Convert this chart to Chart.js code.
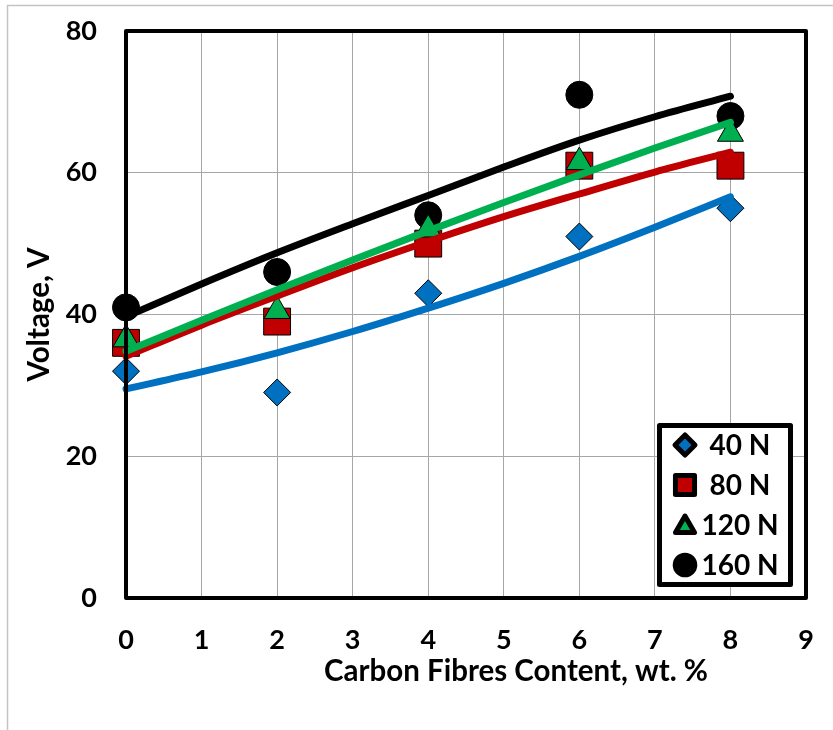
<!DOCTYPE html>
<html>
<head>
<meta charset="utf-8">
<script src="https://cdn.jsdelivr.net/npm/chart.js@4.4.1/dist/chart.umd.min.js"></script>
<style>
  html, body { margin: 0; padding: 0; background: #fff; }
  #wrap { position: relative; width: 833px; height: 730px; }
</style>
</head>
<body>
<div id="wrap"><canvas id="c" width="833" height="730"></canvas></div>
<script>
// ---- data ----
const contentX = [0, 2, 4, 6, 8];
const volt40N  = [32, 29, 43, 51, 55];
const volt80N  = [36, 39, 50, 61, 61];
const volt120N = [36.5, 40.5, 52, 61.5, 65.5];
const volt160N = [41, 46, 54, 71, 68];

// trend curves at each whole wt.%
const trendX      = [0, 1, 2, 3, 4, 5, 6, 7, 8];
const trend40N    = [29.5, 31.9, 34.6, 37.6, 40.9, 44.4, 48.2, 52.3, 56.6];
const trend80N    = [34.1, 38.5, 42.6, 46.6, 50.3, 53.8, 57.0, 60.1, 62.9];
const trend120N   = [34.8, 39.2, 43.5, 47.7, 51.8, 55.8, 59.7, 63.5, 67.1];
const trend160N   = [39.7, 44.3, 48.7, 52.8, 56.8, 60.8, 64.6, 67.9, 70.8];

const seriesLabels = ['40 N', '80 N', '120 N', '160 N'];
const xTicks = [0, 1, 2, 3, 4, 5, 6, 7, 8, 9];
const yTicks = [0, 20, 40, 60, 80];

const COLORS = ['#0070C0', '#C00000', '#00B050', '#000000'];
const STYLES = ['rectRot', 'rect', 'triangle', 'circle'];
const FONT = 'Lato, "Open Sans", "Liberation Sans", sans-serif';

const pts = (xs, ys) => xs.map((x, i) => ({x, y: ys[i]}));

const pointSets = [volt40N, volt80N, volt120N, volt160N];
const trendSets = [trend40N, trend80N, trend120N, trend160N];
const radii = [13.5, 19, 15, 13.5];
const pointOrder = [1, 3, 2, 4]; // higher order drawn first

const datasets = [];
trendSets.forEach((t, i) => {
  datasets.push({
    type: 'line',
    label: seriesLabels[i] + ' trend',
    data: pts(trendX, t),
    borderColor: COLORS[i],
    backgroundColor: COLORS[i],
    borderWidth: 7,
    borderCapStyle: 'round',
    borderJoinStyle: 'round',
    pointRadius: 0,
    showLine: true,
    cubicInterpolationMode: 'monotone',
    fill: false,
    clip: false,
    order: 0 - i * 0.1
  });
});
pointSets.forEach((d, i) => {
  datasets.push({
    type: 'scatter',
    label: seriesLabels[i],
    data: pts(contentX, d),
    pointStyle: STYLES[i],
    pointRadius: radii[i],
    pointHoverRadius: radii[i],
    backgroundColor: COLORS[i],
    borderColor: '#000',
    pointBorderWidth: 1,
    showLine: false,
    clip: false,
    order: pointOrder[i]
  });
});

const framePlugin = {
  id: 'frame',
  beforeDraw(chart) {
    const ctx = chart.ctx;
    ctx.save();
    ctx.fillStyle = '#fff';
    ctx.fillRect(0, 0, chart.width, chart.height);
    ctx.strokeStyle = '#c4c4c4';
    ctx.lineWidth = 1.5;
    ctx.beginPath();
    ctx.moveTo(7.5, 730);
    ctx.lineTo(7.5, 5.5);
    ctx.lineTo(833, 5.5);
    ctx.stroke();
    ctx.restore();
  },
  afterDatasetsDraw(chart) {
    const {left, top, right, bottom} = chart.chartArea;
    const ctx = chart.ctx;
    ctx.save();
    ctx.strokeStyle = '#000';
    ctx.lineWidth = 4;
    ctx.lineJoin = 'round';
    ctx.strokeRect(left, top, right - left, bottom - top);
    ctx.restore();
  },
  afterDraw(chart) {
    const ctx = chart.ctx;
    ctx.save();
    // x-axis title
    ctx.fillStyle = '#000';
    ctx.font = 'bold 29.5px ' + FONT;
    ctx.textAlign = 'center';
    ctx.textBaseline = 'middle';
    ctx.fillText('Carbon Fibres Content, wt. %', 516, 671);
    // legend box
    const bx = 659.5, by = 425.5, bw = 131, bh = 159;
    ctx.fillStyle = '#fff';
    ctx.fillRect(bx, by, bw, bh);
    ctx.lineWidth = 5;
    ctx.strokeStyle = '#000';
    ctx.lineJoin = 'round';
    ctx.strokeRect(bx, by, bw, bh);
    const legRadii = [10, 13.5, 11, 9.8];
    seriesLabels.forEach((lab, i) => {
      const y = 445 + i * 40;
      ctx.fillStyle = COLORS[i];
      ctx.strokeStyle = '#000';
      Chart.helpers.drawPoint(ctx, {pointStyle: STYLES[i], rotation: 0, radius: legRadii[i], borderWidth: 1}, 685, y + (STYLES[i] === 'triangle' ? 2 : 0));
      ctx.fillStyle = '#000';
      ctx.font = 'bold 28px ' + FONT;
      ctx.textAlign = 'center';
      ctx.textBaseline = 'middle';
      ctx.fillText(lab, 740, y + 1);
    });
    ctx.restore();
  }
};

new Chart(document.getElementById('c'), {
  type: 'scatter',
  data: { datasets },
  options: {
    responsive: false,
    animation: false,
    events: [],
    layout: { autoPadding: false, padding: { left: 0, top: 31, right: 27, bottom: 0 } },
    plugins: { legend: { display: false }, tooltip: { enabled: false } },
    scales: {
      x: {
        type: 'linear',
        min: 0, max: 9,
        afterBuildTicks: (s) => { s.ticks = xTicks.map(v => ({value: v})); },
        afterFit: (s) => { s.height = 132; s.paddingLeft = 0; s.paddingRight = 0; },
        ticks: { color: '#000', font: { family: FONT, size: 27, weight: 'bold' }, padding: 26 },
        grid: { color: '#a6a6a6', lineWidth: 1, drawTicks: false },
        border: { display: false }
      },
      y: {
        type: 'linear',
        min: 0, max: 80,
        afterBuildTicks: (s) => { s.ticks = yTicks.map(v => ({value: v})); },
        afterFit: (s) => { s.width = 126; s.paddingTop = 0; s.paddingBottom = 0; },
        ticks: { color: '#000', font: { family: FONT, size: 27, weight: 'bold' }, padding: 29 },
        grid: { color: '#a6a6a6', lineWidth: 1, drawTicks: false },
        border: { display: false },
        title: {
          display: true,
          text: 'Voltage, V',
          color: '#000',
          font: { family: FONT, size: 29.5, weight: 'bold' },
          padding: { top: 22, bottom: 0 }
        }
      }
    }
  },
  plugins: [framePlugin]
});
</script>
</body>
</html>
